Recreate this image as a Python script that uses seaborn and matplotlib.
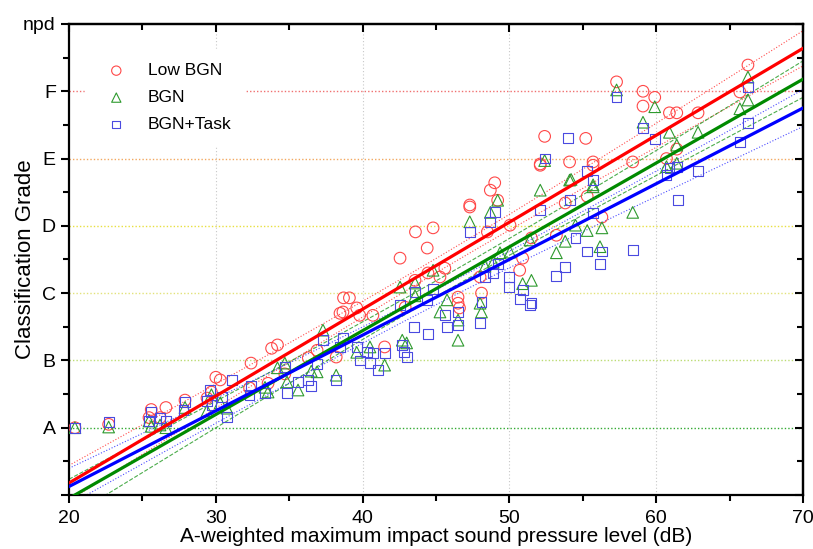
import numpy as np
import pandas as pd
import seaborn as sns
import matplotlib.pyplot as plt
from matplotlib.ticker import MultipleLocator

# Dados (nivel de pressao sonora x nota de classificacao)
x_low = [20.4, 22.7, 25.45, 25.6, 26.2, 26.6, 27.9, 29.4, 29.7, 30.3, 30.0, 32.3, 32.4, 33.56,
         33.8, 34.2, 34.7, 36.3, 36.9, 38.2, 38.46, 38.66, 38.7, 39.1, 39.6, 39.8, 40.7, 41.5,
         42.55, 42.9, 43.57, 43.6, 44.4, 44.45, 44.8, 45.27, 45.6, 46.5, 46.5, 46.6, 47.3, 47.3,
         48.0, 48.1, 48.5, 48.7, 49.0, 49.2, 50.04, 50.7, 50.9, 51.5, 52.1, 52.1, 52.4, 53.2,
         53.8, 54.1, 55.2, 55.3, 55.7, 55.7, 56.3, 57.3, 58.4, 59.1, 59.1, 59.9, 60.7, 60.9,
         61.4, 61.4, 62.85, 65.7, 66.25]
y_low = [1.0, 1.05, 1.15, 1.27, 1.15, 1.3, 1.41, 1.44, 1.53, 1.71, 1.75, 1.59, 1.96, 1.66,
         2.18, 2.23, 1.8, 2.04, 2.15, 2.05, 2.7, 2.72, 2.93, 2.93, 2.78, 2.67, 2.67, 2.2,
         3.52, 2.79, 3.19, 3.91, 3.67, 3.3, 3.97, 3.24, 3.37, 2.94, 2.85, 2.78, 4.31, 4.28,
         3.24, 3.0, 3.91, 4.53, 4.64, 4.38, 4.01, 3.34, 3.52, 3.82, 4.9, 4.92, 5.33, 3.86,
         4.34, 4.95, 5.3, 4.44, 4.95, 4.9, 4.13, 6.14, 4.95, 6.0, 5.78, 5.91, 5.0, 5.68,
         5.68, 5.14, 5.68, 5.99, 6.39]

x_bgn = [20.4, 22.7, 25.6, 25.45, 26.2, 26.6, 27.9, 29.4, 29.7, 30.3, 30.76, 33.35, 33.56,
         34.2, 34.7, 34.85, 35.6, 36.5, 36.9, 37.3, 38.2, 39.6, 40.5, 41.5, 42.55, 42.7, 43.0,
         43.57, 43.57, 44.8, 45.27, 45.75, 46.5, 46.5, 47.3, 48.0, 48.1, 48.34, 48.7, 48.9,
         49.2, 49.36, 50.04, 50.9, 51.4, 51.5, 52.1, 52.4, 53.2, 53.8, 54.1, 54.2, 54.5, 55.3,
         55.7, 55.7, 56.17, 56.3, 57.3, 58.4, 59.1, 59.9, 60.7, 60.9, 61.4, 61.4, 62.85, 65.7,
         66.25, 66.25]
y_bgn = [1.0, 1.01, 1.02, 1.1, 1.04, 1.0, 1.3, 1.25, 1.49, 1.37, 1.29, 1.6, 1.53,
         1.89, 1.96, 1.68, 1.56, 1.84, 1.83, 2.45, 1.78, 2.12, 2.2, 1.93, 3.09, 2.3, 2.26,
         3.15, 2.96, 3.34, 2.72, 2.9, 2.6, 2.3, 4.06, 2.85, 2.72, 3.4, 4.2, 3.46,
         4.38, 3.6, 3.61, 3.14, 3.79, 3.19, 4.53, 4.97, 3.6, 3.77, 4.68, 4.69, 4.01, 3.93,
         4.61, 4.58, 3.69, 3.97, 6.02, 4.2, 5.54, 5.77, 4.88, 5.39, 5.2, 4.93, 5.39, 5.74,
         5.87, 6.21]

x_task = [20.4, 22.7, 25.45, 25.6, 26.2, 26.6, 27.9, 27.8, 29.4, 29.6, 29.7, 30.4, 30.76, 31.1,
          32.3, 32.4, 33.35, 34.7, 34.85, 35.6, 36.3, 36.5, 36.9, 37.3, 38.2, 38.45, 38.66, 39.6,
          39.8, 40.3, 40.5, 40.7, 41.05, 41.5, 42.55, 42.7, 42.8, 43.0, 43.5, 43.57, 44.37, 44.45,
          44.8, 45.6, 45.75, 46.5, 46.5, 47.3, 48.0, 48.1, 48.34, 48.7, 48.9, 49.0, 49.2, 49.97,
          49.97, 50.7, 50.9, 51.4, 51.5, 52.1, 52.4, 53.2, 53.8, 54.1, 54.0, 54.5, 55.3, 55.3,
          55.7, 55.7, 56.17, 56.3, 57.3, 58.4, 59.1, 59.9, 60.7, 60.9, 61.4, 61.5, 62.85, 65.7,
          66.25, 66.25]
y_task = [1.0, 1.08, 1.1, 1.23, 1.15, 1.1, 1.38, 1.26, 1.4, 1.56, 1.34, 1.46, 1.16, 1.71,
          1.49, 1.62, 1.52, 1.9, 1.52, 1.68, 1.71, 1.62, 1.95, 2.3, 1.71, 2.2, 2.33, 2.2,
          2.0, 2.12, 1.96, 2.11, 1.86, 2.11, 2.82, 2.23, 2.12, 2.05, 2.5, 3.02, 2.9, 2.39,
          3.06, 2.67, 2.5, 2.72, 2.53, 3.91, 2.56, 2.87, 3.24, 4.06, 3.3, 4.2, 3.43, 3.24,
          3.09, 2.91, 3.05, 2.82, 2.85, 4.23, 5.0, 3.25, 3.39, 4.38, 5.3, 3.82, 4.81, 3.62,
          4.68, 4.19, 3.43, 3.62, 5.91, 3.64, 5.45, 5.29, 4.75, 4.86, 4.87, 4.38, 4.81, 5.25,
          5.53, 6.06]

# retas de regressao (intercepto, inclinacao)
fit_intercept = [-2.406, -2.542, -2.124]
fit_slope = [0.1292, 0.1246, 0.1125]

grades = ['', 'A', 'B', 'C', 'D', 'E', 'F', 'npd']
grade_colors = ['#33aa33', '#bcdc74', '#e2e27a', '#e8e040', '#f2a860', '#f07070']

series = [
    ('Low BGN', x_low, y_low, 'o', '#ff4848', '#ff0000', ':', 70),
    ('BGN', x_bgn, y_bgn, '^', '#2e9a2e', '#008a00', '--', 70),
    ('BGN+Task', x_task, y_task, 's', '#4a4ae0', '#0000ff', ':', 50),
]

plt.rcParams['font.family'] = ['Liberation Sans', 'DejaVu Sans']
fig = plt.figure(figsize=(8.13, 5.49), dpi=100)
ax = fig.add_axes([0.0849, 0.0984, 0.9028, 0.8579])
ax.set_xlim(20, 70)
ax.set_ylim(0, 7)

# linhas de grade
for xv in [30, 40, 50, 60]:
    ax.axvline(xv, color='#c8c8c8', lw=0.8, ls=(0, (1, 2)), zorder=0)
for i, c in enumerate(grade_colors):
    ax.axhline(i + 1, color=c, lw=1.0, ls=(0, (1, 1.5)), zorder=0)

xx = np.linspace(20, 70, 200)
for k, (nome, xs, ys, mk, cor, cor_linha, estilo, tam) in enumerate(series):
    xs = np.array(xs)
    ys = np.array(ys)
    sns.scatterplot(x=xs, y=ys, marker=mk, s=tam, facecolor='none', edgecolor=cor,
                    linewidth=0.8, label=nome, ax=ax, zorder=3)
    a, b = fit_intercept[k], fit_slope[k]
    yy = a + b * xx
    # banda de confianca 95% em torno da reta
    n = len(xs)
    res = ys - (a + b * xs)
    s = np.sqrt(np.sum((res - res.mean()) ** 2) / (n - 2))
    sxx = np.sum((xs - xs.mean()) ** 2)
    hw = 1.99 * s * np.sqrt(1.0 / n + (xx - xs.mean()) ** 2 / sxx)
    sns.lineplot(x=xx, y=yy, color=cor_linha, lw=2.3, ax=ax, zorder=4)
    sns.lineplot(x=xx, y=yy + hw, color=cor_linha, lw=0.8, ls=estilo, alpha=0.7, ax=ax, zorder=2)
    sns.lineplot(x=xx, y=yy - hw, color=cor_linha, lw=0.8, ls=estilo, alpha=0.7, ax=ax, zorder=2)

ax.set_xlim(20, 70)
ax.set_ylim(0, 7)
ax.set_yticks(range(8))
ax.set_yticklabels(grades)
ax.xaxis.set_major_locator(MultipleLocator(10))
ax.xaxis.set_minor_locator(MultipleLocator(5))
ax.yaxis.set_minor_locator(MultipleLocator(0.5))
ax.tick_params(which='major', direction='out', length=6, width=1.5, labelsize=14)
ax.tick_params(axis='x', which='major', pad=5)
ax.tick_params(which='minor', direction='out', length=4, width=1.5)
for sp in ax.spines.values():
    sp.set_linewidth(1.6)

top = ax.secondary_xaxis('top')
top.xaxis.set_major_locator(MultipleLocator(10))
top.xaxis.set_minor_locator(MultipleLocator(5))
top.tick_params(which='major', direction='in', length=6, width=1.5, labeltop=False)
top.tick_params(which='minor', direction='in', length=4, width=1.5)
right = ax.secondary_yaxis('right')
right.set_yticks(range(8))
right.yaxis.set_minor_locator(MultipleLocator(0.5))
right.tick_params(which='major', direction='in', length=6, width=1.5, labelright=False)
right.tick_params(which='minor', direction='in', length=4, width=1.5)
for sec in (top, right):
    for sp in sec.spines.values():
        sp.set_linewidth(1.6)

ax.set_xlabel('A-weighted maximum impact sound pressure level (dB)', fontsize=15)
ax.set_ylabel('Classification Grade', fontsize=16)
ax.xaxis.set_label_coords(0.5, -0.068)
ax.yaxis.set_label_coords(-0.045, 0.5)

leg = ax.legend(loc='upper left', bbox_to_anchor=(0.01, 0.965), fontsize=12.5, frameon=True,
                facecolor='white', edgecolor='white', framealpha=1, handletextpad=0.8,
                labelspacing=0.68, borderpad=0.8, markerscale=0.8)
leg.set_zorder(5)

fig.savefig('out.png', dpi=100)
